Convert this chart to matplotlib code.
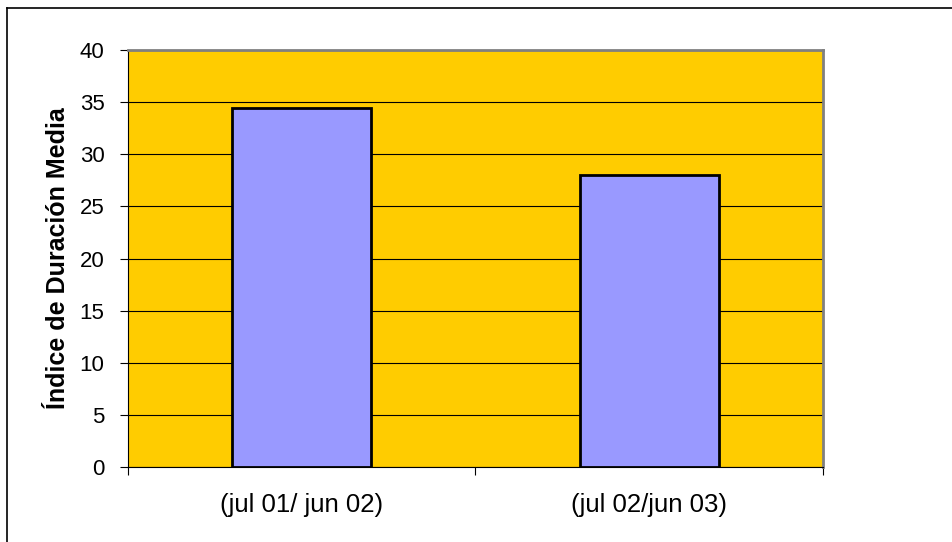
import matplotlib
matplotlib.use("Agg")
import matplotlib.pyplot as plt
from matplotlib.lines import Line2D

periodos = ["(jul 01/ jun 02)", "(jul 02/jun 03)"]
indice = [34.4, 28.0]
y_ticks = [0, 5, 10, 15, 20, 25, 30, 35, 40]

plt.rcParams["font.family"] = ["Liberation Sans", "DejaVu Sans"]

fig = plt.figure(figsize=(9.53, 5.42), dpi=100)
fig.patch.set_facecolor("white")
ax = fig.add_axes([0.1343, 0.1384, 0.7293, 0.7693])
ax.set_facecolor("#FFCC00")

x = list(range(len(periodos)))
ax.bar(x, indice, width=0.4, color="#9999FF", edgecolor="black", linewidth=2, zorder=3)

ax.set_xlim(-0.5, len(periodos) - 0.5)
ax.set_ylim(0, 40)
ax.set_yticks(y_ticks)
ax.yaxis.grid(True, color="black", linewidth=0.8, zorder=1)
ax.set_axisbelow(True)

# category labels in the middle, ticks on the boundaries
ax.set_xticks(x)
ax.set_xticklabels(periodos, fontsize=18.5)
ax.tick_params(axis="x", length=0, pad=19)
ax.set_xticks([i - 0.5 for i in range(len(periodos) + 1)], minor=True)
ax.tick_params(axis="x", which="minor", length=6, width=0.8, color="black")
ax.tick_params(axis="y", length=6, width=0.8, labelsize=16, pad=11)

for side in ["top", "right"]:
    ax.spines[side].set_color("#808080")
    ax.spines[side].set_linewidth(2)
for side in ["left", "bottom"]:
    ax.spines[side].set_color("black")
    ax.spines[side].set_linewidth(0.8)

ax.set_ylabel("Índice de Duración Media", fontsize=18, fontweight="bold", labelpad=7)

# outer frame (only top and left visible)
fig.add_artist(Line2D([7 / 953, 1], [1 - 8 / 542, 1 - 8 / 542], color="black", linewidth=1.2,
                      transform=fig.transFigure))
fig.add_artist(Line2D([7 / 953, 7 / 953], [0, 1 - 8 / 542], color="black", linewidth=1.2,
                      transform=fig.transFigure))

fig.savefig("out.png", dpi=100)
